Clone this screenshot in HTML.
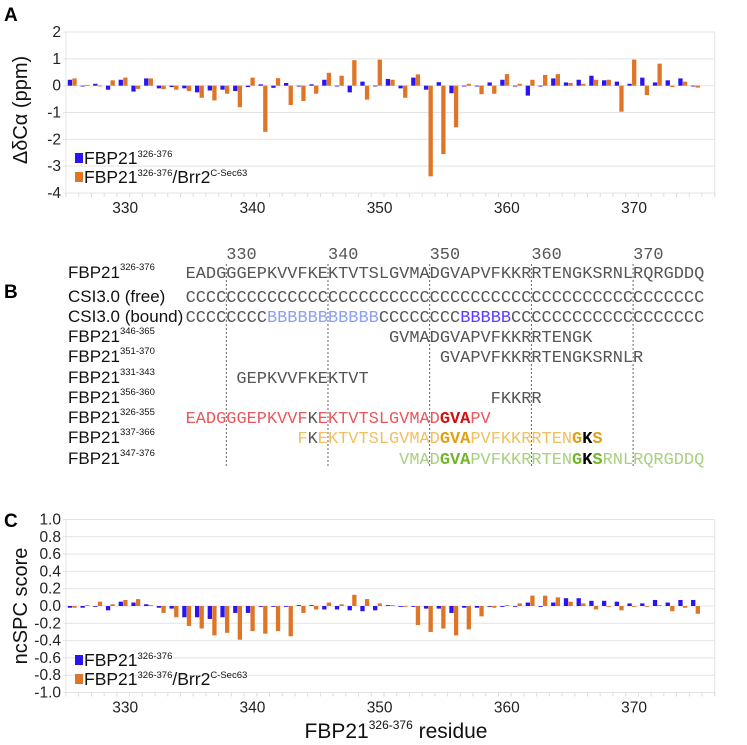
<!DOCTYPE html>
<html><head><meta charset="utf-8"><style>
html,body{margin:0;padding:0;background:#fff;}
svg{display:block;font-family:"Liberation Sans",sans-serif;}
.mono{font-family:"Liberation Mono","DejaVu Sans Mono",monospace;font-size:16.9px;}
</style></head><body>
<svg id="fig" width="747" height="745" viewBox="0 0 747 745" xmlns="http://www.w3.org/2000/svg">
<text x="4" y="21" font-size="19" font-weight="bold">A</text>
<text x="4" y="298" font-size="19" font-weight="bold">B</text>
<text x="4" y="527" font-size="19" font-weight="bold">C</text>
<g id="chartA"></g>
<g id="chartC"></g>
<g id="seqB"></g>
<text transform="translate(27,110) rotate(-90)" text-anchor="middle" font-size="20" fill="#111">ΔδCα (ppm)</text>
<text transform="translate(27,606) rotate(-90)" text-anchor="middle" font-size="20" fill="#111">ncSPC score</text>
<text x="396" y="738" text-anchor="middle" font-size="21" fill="#111">FBP21<tspan dy="-9" font-size="12">326-376</tspan><tspan dy="9"> residue</tspan></text>
</svg>
<script>
const residues = [];
for (let r = 326; r <= 376; r++) residues.push(r);
const xTicks = [330, 340, 350, 360, 370];
const aTicks = [2, 1, 0, -1, -2, -3, -4];
const aBlue = [0.22,-0.02,0.07,-0.15,0.22,-0.22,0.27,-0.1,-0.05,-0.1,-0.25,-0.18,-0.15,-0.2,-0.05,0.05,-0.08,0.1,-0.02,0.05,0.22,0,-0.25,0.15,-0.02,0.25,-0.1,0.3,-0.15,0.13,-0.28,0,-0.03,0.12,0.22,-0.03,-0.37,0,0.27,0.12,0.22,0.37,0.2,0.15,0.07,0.3,0.12,0.2,0.27,-0.02];
const aOrange = [0.27,0.03,0,0.2,0.3,-0.12,0.27,-0.13,-0.15,-0.2,-0.45,-0.55,-0.3,-0.8,0.3,-1.72,0.28,-0.72,-0.57,-0.3,0.48,0.37,0.95,-0.52,0.97,0.22,-0.45,0.42,-3.38,-2.55,-1.55,0.07,-0.32,-0.3,0.43,0.07,0.22,0.4,0.43,0.1,0.07,0.22,0.22,-0.97,0.97,-0.35,0.82,-0.05,0.15,-0.07];
const cTicks = [1.0,0.8,0.6,0.4,0.2,0,-0.2,-0.4,-0.6,-0.8,-1.0];
const cBlue = [-0.02,-0.02,0,-0.05,0.05,0.04,0.02,-0.02,-0.03,-0.13,-0.13,-0.15,-0.13,-0.08,-0.08,0,0,0,0.01,0.01,-0.04,-0.04,-0.05,-0.06,-0.05,0.01,-0.01,0,-0.03,-0.03,-0.08,-0.02,-0.02,0,-0.01,0,0.04,0,0.04,0.09,0.09,0.06,0.06,0.05,0.03,0.03,0.07,0.04,0.07,0.07];
const cOrange = [-0.02,0.01,0.05,0.02,0.07,0.08,0.01,-0.08,-0.13,-0.23,-0.26,-0.34,-0.31,-0.39,-0.29,-0.32,-0.29,-0.35,-0.08,-0.04,0.04,0.02,0.13,0.08,0.03,0.01,-0.01,-0.22,-0.3,-0.26,-0.34,-0.27,-0.12,-0.02,0.01,0.03,0.12,0.12,0.1,0.05,0.03,-0.04,0,-0.05,0,0,0.01,-0.06,-0.02,-0.09];

const NS = "http://www.w3.org/2000/svg";
const X0 = 66, STEP = 12.72;
function xc(r){ return X0 + (r - residues[0] + 0.5) * STEP; }
function mk(tag, attrs, parent){ const e = document.createElementNS(NS, tag); for (const k in attrs) e.setAttribute(k, attrs[k]); parent.appendChild(e); return e; }

function chart(g, top, bottom, vmax, vmin, ticks, blue, orange, fmt, legendY, nm){
  const y = v => top + (vmax - v) / (vmax - vmin) * (bottom - top);
  const xR = X0 + residues.length * STEP;
  ticks.forEach(t => {
    const l = mk('line', {x1: X0-3, x2: xR, y1: y(t), y2: y(t), stroke: '#e4e4e4', 'stroke-width': 1}, g);
    
    
    const tx = mk('text', {x: X0-5, y: y(t)+5, 'text-anchor': 'end', 'font-size': 15.5, fill: '#222'}, g);
    tx.textContent = fmt(t);
    
    
  });
  mk('line', {x1: X0, x2: X0, y1: top, y2: bottom, stroke: '#e4e4e4'}, g);
  mk('line', {x1: xR, x2: xR, y1: top, y2: bottom+4, stroke: '#e4e4e4'}, g);
  for (let i = 0; i <= residues.length; i++) {
    const xx = X0 + i*STEP;
    mk('line', {x1: xx, x2: xx, y1: bottom, y2: bottom+4, stroke: '#ddd'}, g);
  }
  xTicks.forEach(t => {
    const tx = mk('text', {x: xc(t)+2, y: bottom+20, 'text-anchor': 'middle', 'font-size': 15.5, fill: '#222'}, g);
    tx.textContent = t;
    
    
  });
  const y0 = y(0);
  blue.forEach((v, i) => {
    const c = xc(residues[i]);
    const b = mk('rect', {x: c-4.6, y: Math.min(y0, y(v)), width: 4.3, height: Math.max(0.8, Math.abs(y(v)-y0)), fill: '#2b14f2'}, g);
    
    
  });
  orange.forEach((v, i) => {
    const c = xc(residues[i]);
    const b = mk('rect', {x: c, y: Math.min(y0, y(v)), width: 4.3, height: Math.max(0.8, Math.abs(y(v)-y0)), fill: '#df7526'}, g);
    
    
  });
  const r1 = mk('rect', {x: 75, y: legendY-9, width: 8, height: 10, fill: '#2b14f2'}, g);
  
  
  const t1 = mk('text', {x: 84, y: legendY+2, 'font-size': 17.5, fill: '#111'}, g);
  t1.innerHTML = 'FBP21<tspan dy="-7" font-size="9.5">326-376</tspan>';
  
  
  const r2 = mk('rect', {x: 75, y: legendY+10, width: 8, height: 10, fill: '#df7526'}, g);
  
  
  const t2 = mk('text', {x: 84, y: legendY+21, 'font-size': 17.5, fill: '#111'}, g);
  t2.innerHTML = 'FBP21<tspan dy="-7" font-size="9.5">326-376</tspan><tspan dy="7">/Brr2</tspan><tspan dy="-7" font-size="9.5">C-Sec63</tspan>';
  
  
}
chart(document.getElementById('chartA'), 32, 193, 2, -4, aTicks, aBlue, aOrange, t => String(t), 162, 'chart-a');
chart(document.getElementById('chartC'), 519.5, 692.5, 1, -1, cTicks, cBlue, cOrange, t => t.toFixed(1), 664, 'chart-c');

const seq = "EADGGGEPKVVFKEKTVTSLGVMADGVAPVFKKRRTENGKSRNLRQRGDDQ";
const CW = 10.17, SX = 185.6;
const gB = document.getElementById('seqB');
const rowY = [278, 302, 322, 342, 362, 383, 403, 423, 443, 464];
const rowSup = ["326-376","","","346-365","351-370","331-343","356-360","326-355","337-366","347-376"];
const labelTexts = ["FBP21","CSI3.0 (free)","CSI3.0 (bound)","FBP21","FBP21","FBP21","FBP21","FBP21","FBP21","FBP21"];
labelTexts.forEach((t, i) => {
  const tx = mk('text', {x: 68, y: rowY[i], 'font-size': 17, fill: '#111'}, gB);
  tx.innerHTML = t + (rowSup[i] ? '<tspan dy="-8" font-size="9.5">' + rowSup[i] + '</tspan>' : '');
  
  
});
[330,340,350,360,370].forEach(n => {
  const xx = SX + (n-326)*CW;
  const tx = mk('text', {x: xx, y: 259, class: 'mono', fill: '#555'}, gB);
  tx.textContent = n;
  
  
  const l = mk('line', {x1: xx, x2: xx, y1: 264, y2: 466, stroke: '#555', 'stroke-dasharray': '2,2', 'stroke-width': 0.9}, gB);
  
  
});
const segs = [
 [0,0,seq,'#555',0],
 [1,0,'C'.repeat(51),'#555',0],
 [2,0,'CCCCCCCC','#555',0],[2,8,'BBBBBBBBBBB','#8c9ff2',0],[2,19,'CCCCCCCC','#555',0],[2,27,'BBBBB','#5a3cff',0],[2,32,'C'.repeat(19),'#555',0],
 [3,20,'GVMADGVAPVFKKRRTENGK','#555',0],
 [4,25,'GVAPVFKKRRTENGKSRNLR','#555',0],
 [5,5,'GEPKVVFKEKTVT','#555',0],
 [6,30,'FKKRR','#555',0],
 [7,0,'EADGGGEPKVVF','#e8585c',0],[7,12,'K','#555',0],[7,13,'EKTVTSLGVMAD','#e8585c',0],[7,25,'GVA','#cc1111',1],[7,28,'PV','#e8585c',0],
 [8,11,'F','#f0c060',0],[8,12,'K','#555',0],[8,13,'EKTVTSLGVMAD','#f0c060',0],[8,25,'GVA','#e0a010',1],[8,28,'PVFKKRRTEN','#f0c060',0],[8,38,'G','#e0a010',1],[8,39,'K','#000',1],[8,40,'S','#e0a010',1],
 [9,21,'VMAD','#a8d080',0],[9,25,'GVA','#74b52c',1],[9,28,'PVFKKRRTEN','#a8d080',0],[9,38,'G','#74b52c',1],[9,39,'K','#000',1],[9,40,'S','#74b52c',1],[9,41,'RNLRQRGDDQ','#a8d080',0]
];
segs.forEach(s => {
  const tx = mk('text', {x: SX + s[1]*CW, y: rowY[s[0]], class: 'mono', fill: s[3], textLength: s[2].length*CW, lengthAdjust: 'spacingAndGlyphs'}, gB);
  if (s[4]) tx.setAttribute('font-weight', 'bold');
  tx.textContent = s[2];
  
  
});
</script>
</body></html>
